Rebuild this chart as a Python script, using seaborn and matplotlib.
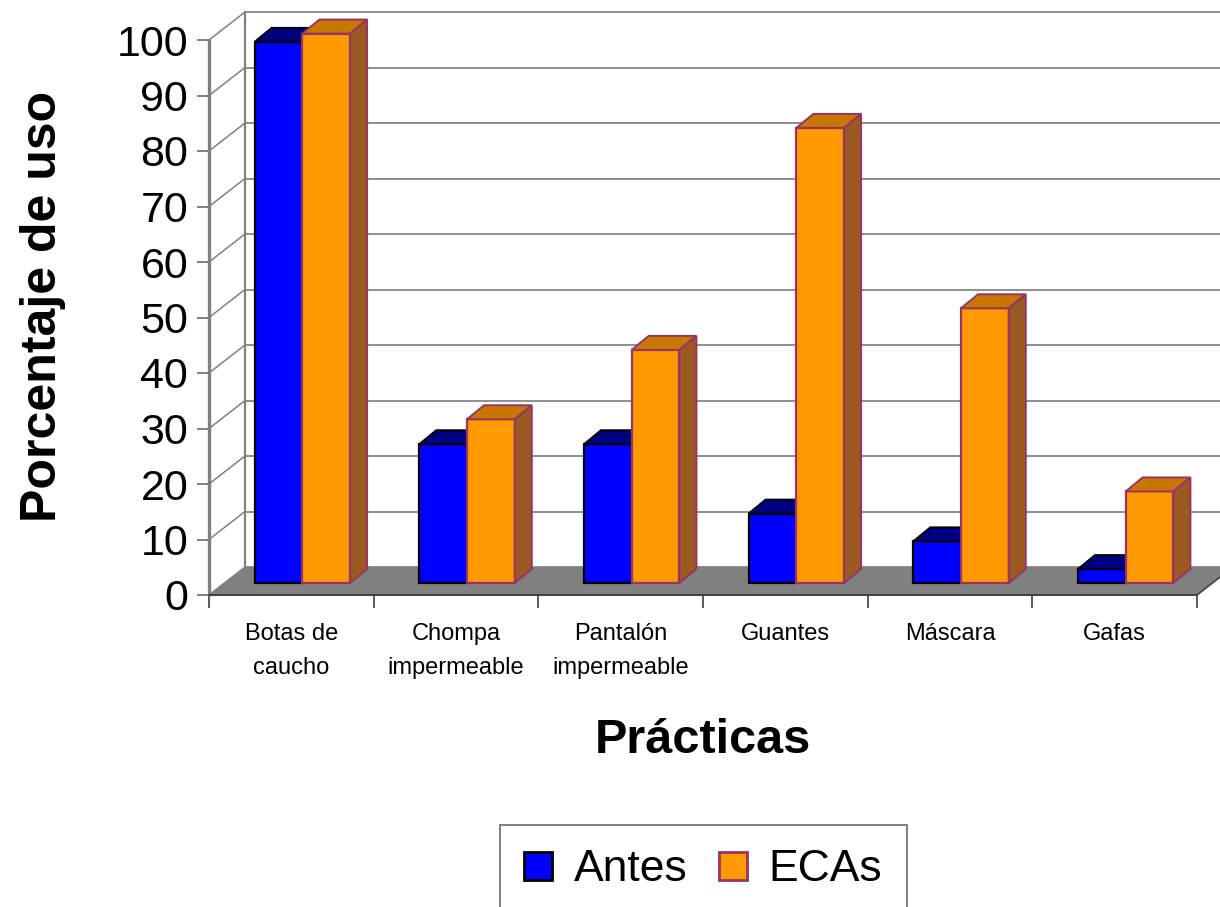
import numpy as np
import pandas as pd
import matplotlib
matplotlib.use("Agg")
import matplotlib.pyplot as plt
import matplotlib.transforms as mtransforms
from matplotlib.patches import Polygon, Patch
import seaborn as sns

# datos
practicas = ["Botas de\ncaucho", "Chompa\nimpermeable", "Pantalón\nimpermeable",
             "Guantes", "Máscara", "Gafas"]
antes = [97.5, 25, 25, 12.5, 7.5, 2.5]
ecas = [99, 29.5, 42, 82, 49.5, 16.5]
grupos = ["Antes", "ECAs"]
yticks = list(range(0, 101, 10))

df = pd.DataFrame({
    "practica": practicas * 2,
    "grupo": ["Antes"] * len(practicas) + ["ECAs"] * len(practicas),
    "valor": antes + ecas,
})

sns.set_theme(style="white")
plt.rcParams["font.family"] = ["Liberation Sans", "DejaVu Sans"]
plt.rcParams["text.color"] = "black"

W, H, DPI = 1220, 907, 100
fig = plt.figure(figsize=(W / DPI, H / DPI), dpi=DPI)
ax = fig.add_axes([209 / W, 1 - 595 / H, 988 / W, 555 / H])
ax.patch.set_alpha(0)

colores = {"Antes": "#0000FF", "ECAs": "#FF9900"}
bordes = {"Antes": "#000000", "ECAs": "#993366"}
tapas = {"Antes": "#000080", "ECAs": "#C87800"}
lados = {"Antes": "#00006A", "ECAs": "#9A5A22"}
gris = "#808080"

sns.barplot(data=df, x="practica", y="valor", hue="grupo", palette=colores,
            width=0.58, saturation=1, ax=ax, legend=False)

n = len(practicas)
ax.set_xlim(-0.5, n - 0.5)
ax.set_ylim(0, 100)

# pixeles por unidad de datos
px_x = 988 / n
px_y = 555 / 100


def desplazado(dx, dy):
    return ax.transData + mtransforms.ScaledTranslation(dx / DPI, dy / DPI, fig.dpi_scale_trans)


# === paredes y piso (efecto 3D) ===
fondo = desplazado(36, 28)
prof_x = 36 / px_x
prof_y = 28 / px_y
for v in yticks:
    ax.plot([-0.5, n - 0.5], [v, v], color="#707070", lw=1.1, transform=fondo,
            clip_on=False, zorder=1)
    ax.plot([-0.5, -0.5 + prof_x], [v, v + prof_y], color=gris, lw=1.1,
            clip_on=False, zorder=1)
ax.plot([-0.5, -0.5], [0, 100], color=gris, lw=1.6, transform=fondo,
        clip_on=False, zorder=1)
ax.plot([-0.5, -0.5], [0, 100], color=gris, lw=2.4, clip_on=False, zorder=1.5)

piso = Polygon([(-0.5, 0), (n - 0.5, 0), (n - 0.5 + prof_x, prof_y), (-0.5 + prof_x, prof_y)],
               closed=True, facecolor=gris, edgecolor="none", clip_on=False, zorder=1.2)
ax.add_patch(piso)
ax.plot([n - 0.5, n - 0.5 + prof_x], [0, prof_y], color="#404040", lw=1.2,
        clip_on=False, zorder=1.3)

# === barras con cara superior y lateral ===
barra_t = desplazado(11, 12)
bx = 17 / px_x
by = 14 / px_y
for gi, g in enumerate(grupos):
    z = 3 + gi
    for p in ax.containers[gi]:
        x0, w, h = p.get_x(), p.get_width(), p.get_height()
        p.set_transform(barra_t)
        p.set_edgecolor(bordes[g])
        p.set_linewidth(1.6)
        p.set_zorder(z)
        p.set_clip_on(False)
        top = Polygon([(x0, h), (x0 + w, h), (x0 + w + bx, h + by), (x0 + bx, h + by)],
                      closed=True, facecolor=tapas[g], edgecolor=bordes[g], lw=1.4,
                      transform=barra_t, clip_on=False, zorder=z)
        lado = Polygon([(x0 + w, 0), (x0 + w + bx, by), (x0 + w + bx, h + by), (x0 + w, h)],
                       closed=True, facecolor=lados[g], edgecolor=bordes[g], lw=1.4,
                       transform=barra_t, clip_on=False, zorder=z)
        ax.add_patch(top)
        ax.add_patch(lado)

# === ejes ===
sns.despine(ax=ax, top=True, right=True, left=True, bottom=False)
ax.spines["bottom"].set_color("#404040")
ax.spines["bottom"].set_linewidth(1.4)
ax.spines["bottom"].set_zorder(2)

ax.set_yticks(yticks)
ax.set_yticklabels([str(v) for v in yticks])
ax.tick_params(axis="y", left=True, length=9, width=1.4, color=gris, pad=6,
               labelsize=31, labelcolor="black")

ax.set_xticks(np.arange(n + 1) - 0.5)
ax.set_xticklabels([])
ax.set_xticks(np.arange(n), labels=practicas, minor=True)
ax.tick_params(axis="x", which="major", bottom=True, length=9, width=1.2,
               color="#404040")
ax.tick_params(axis="x", which="minor", bottom=True, length=0, pad=20,
               labelsize=17, labelcolor="black")
for t in ax.get_xticklabels(minor=True):
    t.set_linespacing(1.7)
ax.grid(False)

ax.set_xlabel("Prácticas", fontsize=35, fontweight="bold", color="black")
ax.xaxis.set_label_coords(0.5, (595 - 718) / 555)
ax.set_ylabel("Porcentaje de uso", fontsize=36, fontweight="bold", color="black")
ax.yaxis.set_label_coords((66 - 209) / 988, 0.52)

# === leyenda ===
manijas = [Patch(facecolor=colores[g], edgecolor=bordes[g], linewidth=2) for g in grupos]
leg = fig.legend(manijas, grupos, loc="upper left", bbox_to_anchor=(500 / W, 1 - 825 / H),
                 ncol=2, fontsize=32, frameon=True, fancybox=False, edgecolor=gris,
                 framealpha=1, handlelength=0.62, handleheight=0.58, handletextpad=0.5,
                 columnspacing=0.7, borderpad=0.55, borderaxespad=0, labelcolor="black")
leg.get_frame().set_linewidth(1.4)

fig.savefig("out.png", dpi=DPI)
plt.close(fig)
